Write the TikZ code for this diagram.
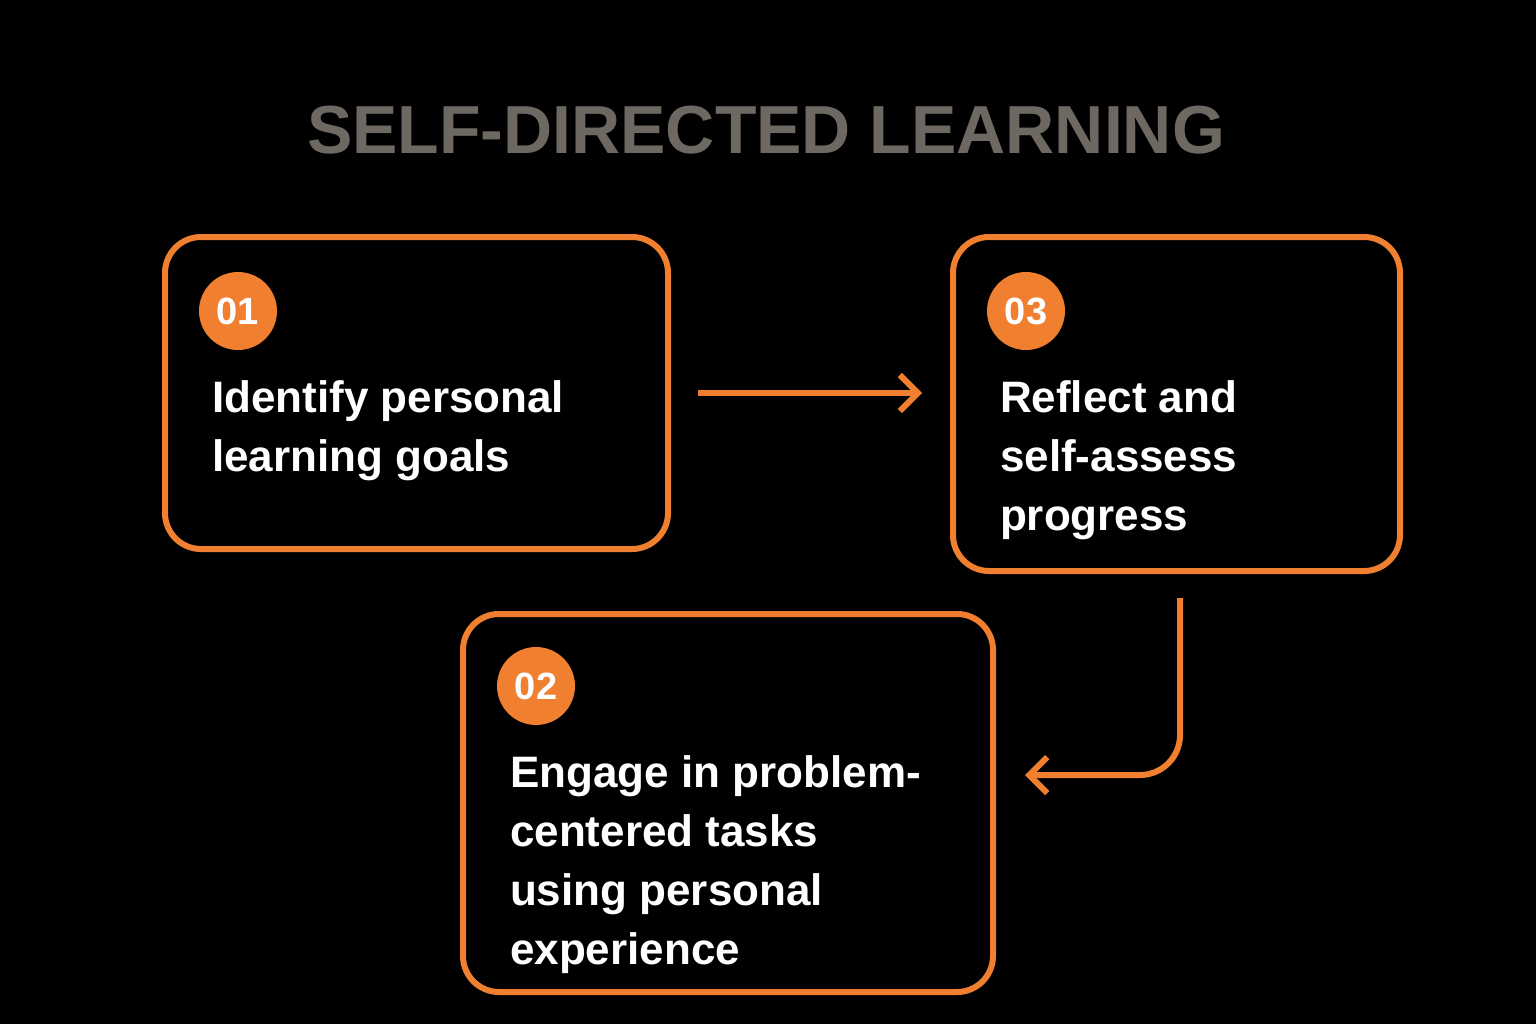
\documentclass[tikz,border=0pt]{standalone}
\usepackage{fontspec}
\setmainfont{Liberation Sans}
\usetikzlibrary{arrows.meta}
\definecolor{accent}{HTML}{F07F30}
\definecolor{titlegray}{HTML}{6E6862}
\begin{document}
\begin{tikzpicture}[x=0.5pt,y=-0.5pt,
    stepbox/.style={draw=accent,line width=3pt,rounded corners=18pt},
    badge/.style={circle,fill=accent,minimum size=39pt,inner sep=0pt,text=white,font=\bfseries\fontsize{19}{19}\selectfont},
    label/.style={anchor=north west,align=left,text=white,font=\bfseries\fontsize{22}{29.5}\selectfont},
    flow/.style={draw=accent,line width=3pt,-{Straight Barb[length=9pt,width=18pt,line width=3pt]}}]
  \fill[black] (0,0) rectangle (1536,1024);
  \node[text=titlegray,font=\bfseries\fontsize{34}{34}\selectfont] (title) at (766,130) {SELF-DIRECTED LEARNING};
  % boxes
  \draw[stepbox] (165,237) rectangle (668,549);
  \draw[stepbox] (953,237) rectangle (1400,571);
  \draw[stepbox] (463,614) rectangle (993,992);
  \node[badge] (b1) at (238,311) {01};
  \node[badge] (b3) at (1026,311) {03};
  \node[badge] (b2) at (536,686) {02};
  \node[label] (t1) at (205,374) {Identify personal\\learning goals};
  \node[label] (t3) at (993,374) {Reflect and\\self-assess\\progress};
  \node[label] (t2) at (503,749) {Engage in problem-\\centered tasks\\using personal\\experience};
  % arrows
  \coordinate (a1) at (698,393);
  \coordinate (a2) at (922,393);
  \coordinate (c1) at (1180,598);
  \coordinate (c2) at (1025,775);
  \draw[flow] (a1) -- (a2);
  \draw[flow,rounded corners=20pt] (c1) |- (c2);
\end{tikzpicture}
\end{document}
